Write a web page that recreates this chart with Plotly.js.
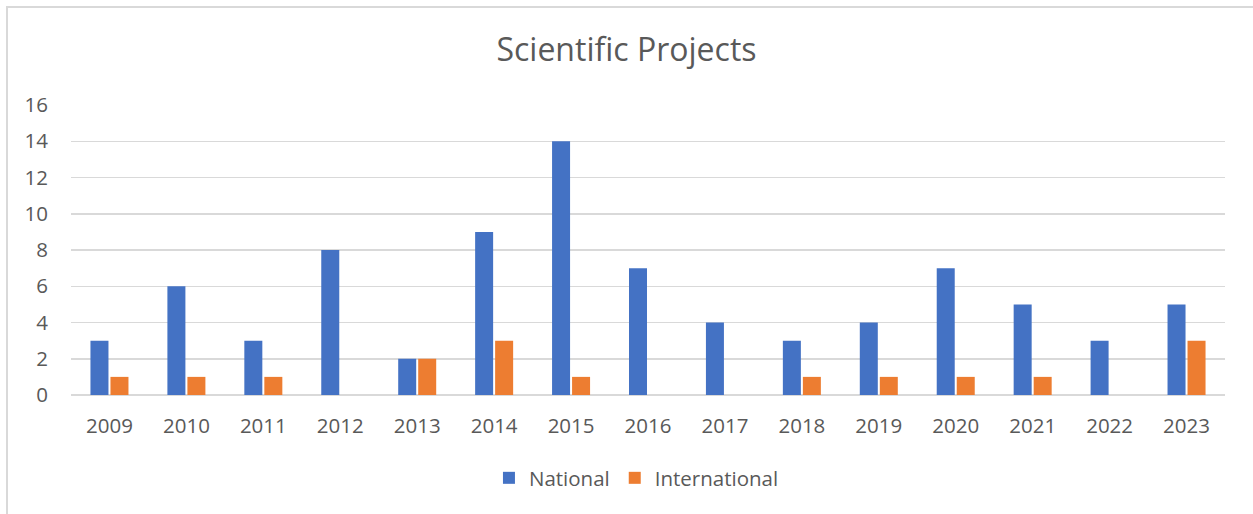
<!DOCTYPE html>
<html>
<head>
<meta charset="utf-8">
<script src="https://cdn.plot.ly/plotly-3.0.1.min.js"></script>
<style>
html,body{margin:0;padding:0;background:#fff;width:1253px;height:514px;overflow:hidden;}
#frame{position:absolute;left:6px;top:6px;width:1270px;height:540px;border:2px solid #d9d9d9;box-sizing:border-box;pointer-events:none;}
#chart{position:absolute;left:0;top:0;width:1253px;height:514px;}
</style>
</head>
<body>
<div id="frame"></div>
<div id="chart"></div>
<script>
const years = ["2009","2010","2011","2012","2013","2014","2015","2016","2017","2018","2019","2020","2021","2022","2023"];
const national = [3,6,3,8,2,9,14,7,4,3,4,7,5,3,5];
const international = [1,1,1,0,2,3,1,0,0,1,1,1,1,0,3];
const yTicks = [0,2,4,6,8,10,12,14,16];

const font = "Open Sans, Noto Sans, sans-serif";
const traces = [
  {type:"bar", name:"National", x:years, y:national, marker:{color:"#4472c4"}},
  {type:"bar", name:"International", x:years, y:international, marker:{color:"#ed7d31"}}
];
const layout = {
  width:1253, height:514,
  margin:{l:71, r:28, t:105, b:119},
  paper_bgcolor:"rgba(0,0,0,0)", plot_bgcolor:"rgba(0,0,0,0)",
  barmode:"group", bargap:0.48, bargroupgap:0.1,
  title:{text:"Scientific Projects", x:0.5, xanchor:"center", y:1-50/514, yanchor:"middle",
         font:{family:font, size:32, color:"#595959"}},
  xaxis:{type:"category", showgrid:false, zeroline:false, showline:false, ticks:"",
         tickfont:{family:font, size:20.5, color:"#595959"}, ticklabelstandoff:16},
  yaxis:{range:[0,16], tickvals:yTicks, showgrid:true, gridcolor:"#d9d9d9", gridwidth:1.5,
         zeroline:true, zerolinecolor:"#d9d9d9", zerolinewidth:1.8, showline:false, ticks:"",
         tickfont:{family:font, size:20.5, color:"#595959"}, ticklabelstandoff:22},
  showlegend:true,
  legend:{orientation:"h", x:0.49, xanchor:"center", y:(395-478)/290, yanchor:"middle",
          font:{family:font, size:20.5, color:"#595959"}, itemwidth:20, traceorder:"normal"}
};
Plotly.newPlot("chart", traces, layout, {displayModeBar:false, staticPlot:true});
</script>
</body>
</html>
